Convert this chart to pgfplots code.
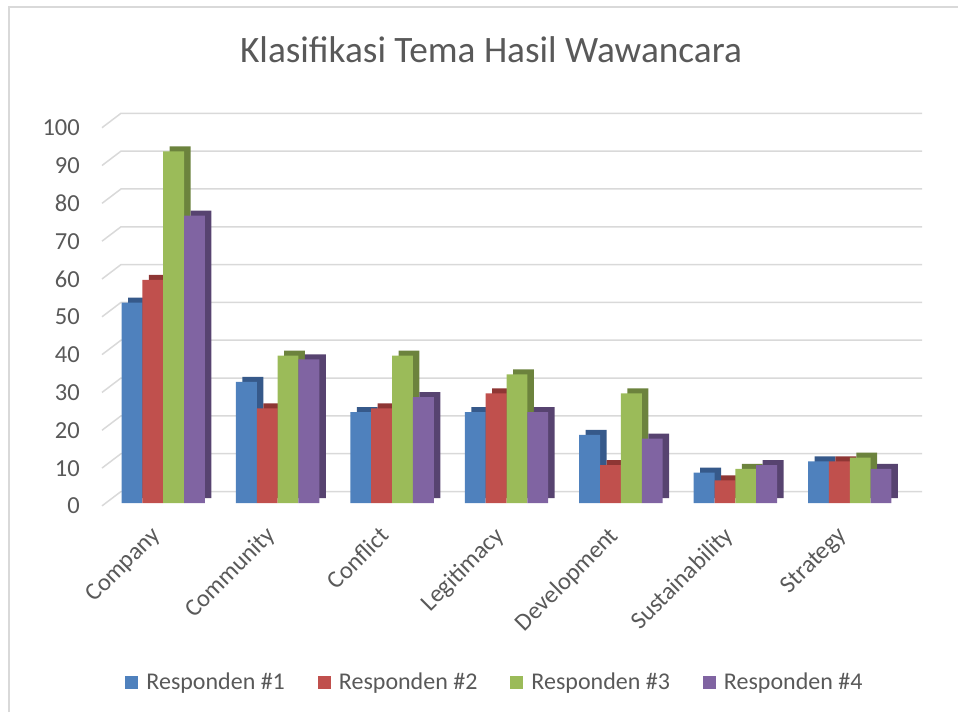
\documentclass[border=0pt]{standalone}
\usepackage{pgfplots}
\usepackage{pgfplotstable}
\pgfplotsset{compat=1.18}
\usepackage{fontspec}
\setmainfont{Carlito}
\definecolor{c1}{HTML}{4F81BD}
\definecolor{c2}{HTML}{C0504D}
\definecolor{c3}{HTML}{9BBB59}
\definecolor{c4}{HTML}{8064A2}
\definecolor{c1s}{HTML}{36598A}
\definecolor{c2s}{HTML}{8E3634}
\definecolor{c3s}{HTML}{6C833D}
\definecolor{c4s}{HTML}{574370}
\definecolor{txt}{HTML}{595959}
\definecolor{gridc}{HTML}{D9D9D9}
\pgfplotstableread{
x r1 r2 r3 r4
0 53 59 93 76
1 32 25 39 38
2 24 25 39 28
3 24 29 34 24
4 18 10 29 17
5 8 6 9 10
6 11 11 12 9
}\datatable
\pgfplotsset{
  sq/.style={legend image code/.code={\fill[##1] (0pt,-6.5pt) rectangle (13pt,6.5pt); \path (19pt,0pt);}},
  front/.style={ybar, bar width=20.85pt, draw=none, sq},
  side/.style={ybar, bar width=20.85pt, draw=none, xshift=6.5pt, yshift=5pt, forget plot},
}
\begin{document}
\begin{tikzpicture}
\useasboundingbox (0pt,0pt) rectangle (958pt,712pt);
\draw[gridc, line width=1.5pt] (9pt,0pt) -- (9pt,705pt) -- (958pt,705pt);
\node[anchor=base, text=txt, font=\fontsize{37.3}{44}\selectfont] at (491pt,649pt) {Klasifikasi Tema Hasil Wawancara};
\begin{axis}[
  at={(106pt,209pt)}, anchor=south west,
  scale only axis, width=801pt, height=378.2pt,
  xmin=-0.5, xmax=6.5, ymin=0, ymax=100,
  enlargelimits=false, clip=false,
  axis line style={draw=none},
  major tick style={draw=none},
  ytick={0,10,...,100},
  xtick={0,...,6},
  xticklabels={Company,Community,Conflict,Legitimacy,Development,Sustainability,Strategy},
  /pgf/number format/assume math mode=true,
  tick label style={font=\fontsize{24.5}{29}\selectfont, text=txt},
  yticklabel style={anchor=east, inner sep=0pt, xshift=-26pt, yshift=-3pt},
  xticklabel style={rotate=45, anchor=north east, inner sep=0pt, xshift=-25pt, yshift=-6pt},
  legend columns=4,
  legend style={at={(0.4856,-0.4733)}, anchor=center, draw=none, fill=none,
    font=\fontsize{24}{28}\selectfont, text=txt,
    /tikz/every even column/.append style={column sep=31pt}},
]
\pgfplotsinvokeforeach{0,10,...,100}{
  \draw[gridc, line width=1.5pt] ([xshift=-4pt,yshift=-2.9pt]axis cs:-0.5,#1) -- ([xshift=15pt,yshift=11.5pt]axis cs:-0.5,#1) -- ([xshift=15pt,yshift=11.5pt]axis cs:6.5,#1);
}
\addplot[side, bar shift=-31.275pt, fill=c1s] table[x=x,y=r1]{\datatable};
\addplot[side, bar shift=-10.425pt, fill=c2s] table[x=x,y=r2]{\datatable};
\addplot[side, bar shift=10.425pt, fill=c3s] table[x=x,y=r3]{\datatable};
\addplot[side, bar shift=31.275pt, fill=c4s] table[x=x,y=r4]{\datatable};
\addplot[front, bar shift=-31.275pt, fill=c1] table[x=x,y=r1]{\datatable};
\addplot[front, bar shift=-10.425pt, fill=c2] table[x=x,y=r2]{\datatable};
\addplot[front, bar shift=10.425pt, fill=c3] table[x=x,y=r3]{\datatable};
\addplot[front, bar shift=31.275pt, fill=c4] table[x=x,y=r4]{\datatable};
\legend{Responden \#1, Responden \#2, Responden \#3, Responden \#4}
\end{axis}
\end{tikzpicture}
\end{document}
